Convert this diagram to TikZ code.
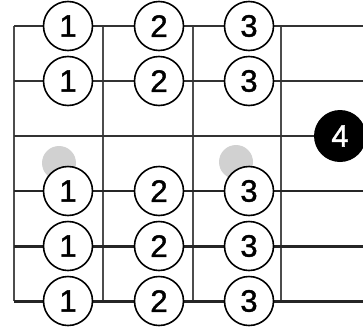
\documentclass[tikz,border=0pt]{standalone}
\usepackage{fontspec}
\setmainfont{Liberation Sans}
\newfontfamily\digitfont[FakeBold=1.3]{Liberation Sans}
\begin{document}
\begin{tikzpicture}[x=1pt,y=-1pt,
  fret/.style={draw=black!70,line width=1.1pt},
  thinstr/.style={draw=black!80,line width=1.2pt},
  midstr/.style={draw=black!85,line width=2.2pt},
  thickstr/.style={draw=black!85,line width=3pt},
  finger/.style={circle,draw=black,line width=1.6pt,fill=white,minimum size=49pt,inner sep=0pt,font=\digitfont\fontsize{31}{31}\selectfont},
  pinky/.style={circle,fill=black,minimum size=52pt,inner sep=0pt,text=white,font=\digitfont\fontsize{31}{31}\selectfont},
  ghost/.style={circle,fill=black!18,minimum size=34pt,inner sep=0pt}]
\useasboundingbox (0,0) rectangle (363,332);
% string coordinates
\foreach \i/\y in {1/26,2/81,3/136,4/191,5/246,6/301}{
  \coordinate (sL\i) at (14,\y);
  \coordinate (sR\i) at (363,\y);
}
\foreach \j/\x in {1/14,2/103,3/193,4/281}{
  \coordinate (fT\j) at (\x,26);
  \coordinate (fB\j) at (\x,301);
}
% frets
\foreach \j in {1,2,3,4}{ \draw[fret] (fT\j) -- (fB\j); }
% strings
\foreach \i in {1,2,3}{ \draw[thinstr] (sL\i) -- (sR\i); }
\draw[midstr] (sL4) -- (sR4);
\draw[thickstr] (sL5) -- (sR5);
\draw[thickstr] (sL6) -- (sR6);
% ghost dots
\node[ghost] (g1) at (59,163) {};
\node[ghost] (g2) at (236,162) {};
% fingers
\foreach \i/\y in {1/26,2/81,4/191,5/246,6/301}{
  \node[finger] (a\i) at (68,\y) {1};
  \node[finger] (b\i) at (159,\y) {2};
  \node[finger] (c\i) at (249,\y) {3};
}
\node[pinky] (d3) at (340,136) {4};
\end{tikzpicture}
\end{document}
